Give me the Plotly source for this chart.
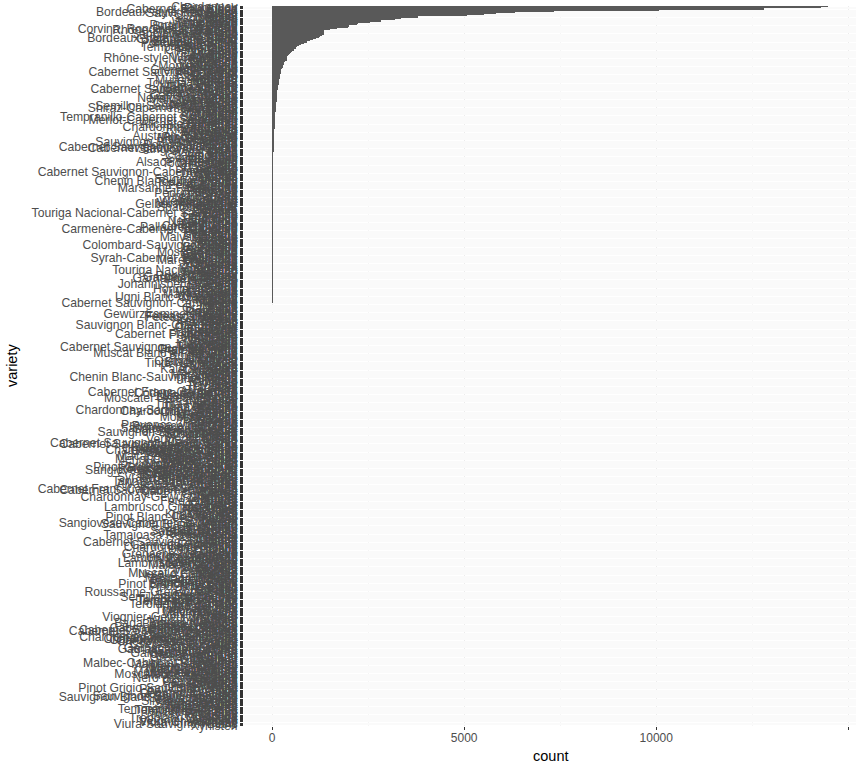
import plotly.graph_objects as go

varieties = [
    # 0-24
    "Chardonnay", "Pinot Noir", "Cabernet Sauvignon", "Red Blend", "Bordeaux-style Red Blend", "Sauvignon Blanc", "Syrah", "Riesling", "Merlot", "Zinfandel",
    "Sangiovese", "Malbec", "Rosé", "White Blend", "Tempranillo", "Nebbiolo", "Portuguese Red", "Sparkling Blend", "Shiraz", "Corvina, Rondinella, Molinara",
    "Rhône-style Red Blend", "Barbera", "Pinot Gris", "Cabernet Franc", "Sangiovese Grosso",
    # 25-49
    "Pinot Grigio", "Viognier", "Bordeaux-style White Blend", "Champagne Blend", "Port", "Grüner Veltliner", "Gewürztraminer", "Portuguese White", "Petite Sirah", "Carmenère",
    "Tempranillo Blend", "Grenache", "Glera", "Chenin Blanc", "Pinot Blanc", "Albariño", "Gamay", "Aglianico", "Moscato", "Sauvignon",
    "Rhône-style White Blend", "Nero d'Avola", "Torrontés", "Sémillon", "Pinotage",
    # 50-74
    "Garnacha", "Verdejo", "Montepulciano", "Mourvèdre", "Vermentino", "Grenache Blanc", "Primitivo", "Cabernet Sauvignon-Merlot", "Petit Verdot", "Tannat",
    "Roussanne", "Dolcetto", "Meritage", "Prosecco", "Müller-Thurgau", "Bonarda", "Garganega", "Touriga Nacional", "Furmint", "Fiano",
    "Tinta de Toro", "Malbec-Merlot", "Cabernet Sauvignon-Syrah", "Syrah-Grenache", "Mencía",
    # 75-99
    "Blaufränkisch", "Zweigelt", "Cabernet Merlot", "Greco", "Falanghina", "Nerello Mascalese", "Malvasia Bianca", "Carignane", "Verdicchio", "Cabernet Blend",
    "Muscat", "Negroamaro", "Semillon-Sauvignon Blanc", "Pinot Bianco", "Shiraz-Cabernet Sauvignon", "Vernaccia", "Friulano", "Monastrell", "Moscatel", "Lagrein",
    "Teroldego", "Cinsault", "Tempranillo-Cabernet Sauvignon", "Sagrantino", "Merlot-Cabernet Sauvignon",
    # 100-145
    "Kerner", "Auxerrois", "Carignan", "Alicante Bouschet", "Cannonau", "Chardonnay-Viognier", "Tinto Fino", "Ribolla Gialla", "Xinomavro", "Assyrtiko",
    "Agiorgitiko", "Sylvaner", "Arneis", "Austrian Red Blend", "Pinot Meunier", "Muscat Canelli", "Trebbiano", "Moschofilero", "Lemberger", "Sauvignon Blanc-Semillon",
    "Rosato", "Portuguese Rosé", "Valdiguié", "Cabernet Sauvignon-Sangiovese", "Cabernet Sauvignon-Shiraz", "Sangiovese-Syrah", "Norton", "Vidal Blanc", "Baga", "Arinto",
    "Chambourcin", "Aragonês", "Grillo", "Seyval Blanc", "Rkatsiteli", "Pecorino", "Alsace white blend", "Tocai Friulano", "Trincadeira", "Vidal",
    "Insolia", "Catarratto", "Frappato", "Godello", "Plavac Mali", "Cabernet Sauvignon-Cabernet Franc",
    # 146-149
    "Dornfelder", "Cortese", "Picpoul", "Saperavi",
    # 150-153
    "Melon", "Sauvignon Gris", "Vranec", "Chenin Blanc-Chardonnay",
    # 154-157
    "Touriga Franca", "Castelão", "Fernão Pires", "Loureiro",
    # 158-162
    "Alvarinho", "Marsanne-Roussanne", "Avesso", "Antão Vaz", "Palomino",
    # 163-167
    "Pedro Ximénez", "Sherry", "Tinta Cão", "Tinta Barroca", "Jaen",
    # 168-172
    "Alfrocheiro", "St. Laurent", "Welschriesling", "Neuburger", "Muskat Ottonel",
    # 173-178
    "Gelber Muskateller", "Traminer", "Scheurebe", "Spätburgunder", "Silvaner", "Schiava",
    # 179-184
    "Refosco", "Croatina", "Touriga Nacional-Cabernet Sauvignon", "Freisa", "Grignolino", "Ruché",
    # 185-191
    "Timorasso", "Erbaluce", "Favorita", "Nero di Troia", "Uva di Troia", "Gaglioppo", "Piedirosso",
    # 192-198
    "Coda di Volpe", "Pallagrello Bianco", "Ciliegiolo", "Carmenère-Cabernet Sauvignon", "Canaiolo", "Grechetto", "Passerina",
    # 199-207
    "Lacrima", "Albana", "Pignoletto", "Malvasia Nera", "Vitovska", "Pigato", "Nuragus", "Monica", "Carignano",
    # 208-221
    "Bovale", "Colombard-Sauvignon Blanc", "Torbato", "Grecanico", "Zibibbo", "Perricone", "Carricante", "Moscato Giallo", "Brachetto", "Cesanese",
    "Vignoles", "Traminette", "Syrah-Cabernet Sauvignon", "Baco Noir",
    # 222-237
    "Maréchal Foch", "Frontenac", "Marquette", "Catawba", "Concord", "Niagara", "Cayuga", "Chardonel", "Muscadine", "Touriga Nacional Blend",
    "Charbono", "Mission", "Trousseau", "Symphony", "Ruby Cabernet", "Garnacha Blanca",
    # 238-249
    "Garnacha Tintorera", "Prieto Picudo", "Bobal", "Graciano", "Mazuelo", "Johannisberg Riesling", "Xarel-lo", "Macabeo", "Viura", "Parellada",
    "Hondarrabi Zuri", "Treixadura",
    # 250-260
    "Roditis", "Malagousia", "Mavrodaphne", "Athiri", "Savatiano", "Ugni Blanc-Colombard", "Mandilaria", "Kotsifali", "Liatiko", "Vidiano",
    "Cabernet Sauvignon-Carmenère",
    # 261-275
    "Robola", "Limnio", "Pošip", "Graševina", "Teran", "Babić", "Tamjanika", "Prokupac", "Mtsvane", "Gewürztraminer-Riesling",
    "Feteasca Neagra", "Feteasca Regala", "Mavrud", "Melnik", "Kadarka",
    # 276-289
    "Kékfrankos", "Hárslevelü", "Tokaji", "Sauvignon Blanc-Chardonnay", "Juhfark", "Olaszrizling", "Portugieser", "Elbling", "Trollinger", "Rieslaner",
    "Chasselas", "Cabernet Franc-Merlot", "Petite Arvine", "Cornalin",
    # 290-304
    "Mondeuse", "Jacquère", "Altesse", "Savagnin", "Poulsard", "Aligoté", "Muscadelle", "Colombard", "Ugni Blanc", "Cabernet Sauvignon-Tempranillo",
    "Gros Manseng", "Petit Manseng", "Négrette", "Fer Servadou", "Muscat Blanc à Petit Grain",
    # 305-321
    "Clairette", "Bourboulenc", "Counoise", "Rolle", "Tibouren", "Nielluccio", "Orange Muscat", "Black Muscat", "Tinta Negra Mole", "Malvasia",
    "Zelen", "Rebula", "Žilavka", "Kalecik Karasi", "Öküzgözü", "Boğazkere", "Narince",
    # 322-336
    "Emir", "Maratheftiko", "Mavro", "Chenin Blanc-Sauvignon Blanc", "Rufete", "Tinta Miúda", "Rabigato", "Viosinho", "Gouveio", "Síria",
    "Bical", "Terrantez", "Vinhão", "Azal", "Trajadura",
    # 337-351
    "Alvarelhão", "Cabernet Franc-Carmenère", "Códega do Larinho", "Espadeiro", "Malvasia Fina", "Moscatel Roxo", "Moscatel Galego Branco", "Sercial", "Bual", "Malmsey",
    "Souzão", "Tinta Amarela", "Tinta Francisca", "Verdelho", "Tinta Madeira",
    # 352-382
    "Aleatico", "Bellone", "Chardonnay-Sauvignon Blanc", "Chardonnay-Semillon", "Chiavennasca", "Enantio", "Franconia", "Marzemino", "Moscato Rosa", "Moscadello",
    "Nascetta", "Nosiola", "Pelaverga", "Picolit", "Pignolo", "Provence white blend", "Provence red blend", "Rossese", "Sangiovese Cabernet", "Sauvignon Musqué",
    "Sauvignonasse", "Sauvignon Blanc-Viognier", "Schioppettino", "Susumaniello", "Tintore", "Verduzzo", "Vespolina", "Vermentino Nero", "Nasco", "Girò",
    "Casavecchia",
    # 383-417
    "Cabernet Sauvignon-Merlot-Shiraz", "Cabernet Sauvignon-Petit Verdot", "Cabernet-Syrah", "Carignan-Grenache", "Carmenère-Syrah", "Chardonnay-Albariño", "Chardonnay-Pinot Blanc", "Grenache-Carignan", "Grenache-Shiraz", "Grenache-Syrah",
    "Grenache Gris", "Macabeo-Chardonnay", "Malbec-Syrah", "Malbec-Tannat", "Merlot-Cabernet Franc", "Merlot-Malbec", "Merlot-Syrah", "Merlot-Tannat", "Monastrell-Syrah", "Mourvèdre-Syrah",
    "Petite Sirah-Zinfandel", "Pinot Gris-Gewürztraminer", "Roussanne-Viognier", "Roussanne-Marsanne", "Sangiovese-Cabernet Franc", "Shiraz-Grenache", "Shiraz-Viognier", "Shiraz-Tempranillo", "Syrah-Mourvèdre", "Syrah-Petite Sirah",
    "Syrah-Cabernet Franc", "Syrah-Tempranillo", "Syrah-Viognier", "Tannat-Cabernet Franc", "Tannat-Merlot",
    # 418-468
    "Airén", "Alvarinho-Chardonnay", "Argaman", "Babeasca Neagra", "Blatina", "Cabernet Franc-Cabernet Sauvignon", "Cabernet Sauvignon-Petite Sirah", "Cabernet Moravia", "Chelois", "Cercial",
    "Completer", "Courbu", "Chardonnay-Gewürztraminer", "Diamond", "Dimyat", "Duras", "Fetească Albă", "Gamaret", "Garanoir", "Heida",
    "Huxelrebe", "Lambrusco Grasparossa", "Irsai Oliver", "Jampal", "Karasakiz", "Kéknyelű", "Kisi", "Királyleányka", "La Crescent", "Léon Millot",
    "Pinot Blanc-Chardonnay", "Marawi", "Mauzac", "Misket", "Ortega", "Sangiovese-Cabernet Sauvignon", "Sauvignon Blanc-Verdejo", "Prunelard", "Räuschling", "Roussette",
    "Rubin", "Syrah-Carignan", "Sárgamuskotály", "Scuppernong", "Smederevka", "St. Vincent", "Tamaioasa Romaneasca", "Zierfandler", "Trepat", "Tsolikouri",
    "Vilana",
    # 469-538
    "Alicante", "Cabernet Sauvignon-Malbec", "Caprettone", "Cariñena-Garnacha", "Centesiminio", "Chardonnay-Riesling", "Dafni", "Debit", "Doña Blanca", "Durello",
    "Forcallà", "Grenache-Mourvèdre", "Groppello", "Incrocio Manzoni", "Kinali Yapincak", "Lambrusco Salamino", "Lambrusco", "Listán Negro", "Loin de l'Oeil", "Lambrusco di Sorbara",
    "Madeira Blend", "Malbec-Bonarda", "Malvar", "Malvazija", "Mantonico", "Merseguera", "Morava", "Moristel", "Muscat d'Alexandrie", "Nerello Cappuccio",
    "Nocera", "Obeidi", "Muscat Hamburg", "Pallagrello Nero", "Petit Courbu", "Picapoll", "Piquepoul Blanc", "Pinot Auxerrois", "Pinot Blanc-Pinot Noir", "Pinot Noir-Syrah",
    "Prié Blanc", "Raboso", "Ramisco", "Rivaner", "Romorantin", "Roussanne-Grenache Blanc", "Sacy", "Sauvignon Vert", "Sciaccerellu", "Semillon-Chardonnay",
    "Shiraz-Malbec", "Sousão", "Tempranillo-Merlot", "Tempranillo-Shiraz", "Terret Blanc", "Teroldego Rotaliano", "Tinta del Toro", "Tinto del Pais", "Tocai Rosso", "Torontel",
    "Trousseau Gris", "Monemvasia", "Mavrotragano", "Uvalino", "Valvin Muscat", "Verdeca", "Vidadillo", "Viognier-Gewürztraminer", "Vital", "Weissburgunder",
    # 539-631
    "Abouriou", "Aidani", "Baga-Touriga Nacional", "Barbera-Nebbiolo", "Biancu Gentile", "Bombino Bianco", "Cabernet Franc-Malbec", "Cabernet Pfeffer", "Cabernet Sauvignon-Barbera", "Cabernet Sauvignon-Grenache",
    "Cabernet-Shiraz", "Carcajolu", "Carnelian", "Cesanese d'Affile", "Chardonnay Weissburgunder", "Chardonnay-Pinot Gris", "Chardonnay-Pinot Grigio", "Chardonnay-Sauvignon", "Chenin Blanc-Viognier", "Coda di Pecora",
    "Cserszegi Fűszeres", "Durif", "Forastera", "Gamay Noir", "Garnacha-Monastrell", "Garnacha-Tempranillo", "Garnacha Tinta", "Garnacha-Syrah", "Garnacha-Cariñena", "Gelber Traminer",
    "Gragnano", "Grauburgunder", "Grenache Blend", "Grolleau", "Gros Plant", "Jacquez", "Kallmet", "Malbec-Cabernet Sauvignon", "Malbec-Petit Verdot", "Mansois",
    "Merlot-Argaman", "Merlot-Cabernet", "Merlot-Grenache", "Merlot-Shiraz", "Molinara", "Mondeuse Blanche", "Moscatel Graúdo", "Moscatel de Alejandría", "Moscato Bianco", "Muscadel",
    "Nero d'Avola-Syrah", "Nielluciu", "Ondenc", "Orangetraube", "Pansa Blanca", "Parraleta", "Pedernã", "Petit Meslier", "Petite Verdot", "Pinot Grigio-Sauvignon Blanc",
    "Pinot-Chardonnay", "Plyto", "Premsal", "Prugnolo Gentile", "Rosenmuskateller", "Roscetto", "Sauvignon Blanc-Assyrtiko", "Sauvignon Blanc-Sauvignon Gris", "Schwartzriesling", "Sideritis",
    "Silvaner-Traminer", "Sgaveta", "Souvignier Gris", "Syrah-Bonarda", "Syrah-Malbec", "Syrah-Merlot", "Tannat-Syrah", "Tempranillo-Garnacha", "Tempranillo-Tannat", "Terrantez do Pico",
    "Thrapsathiri", "Tinta Fina", "Tokay Pinot Gris", "Tokay", "Touriga", "Trebbiano Spoletino", "Uva Rara", "Verdosilla", "Viognier-Valdiguié", "Viura-Chardonnay",
    "Vranac", "Viura-Sauvignon Blanc", "Xynisteri",
]

counts = [
    # 0-24
    14482, 14291, 12800, 10062, 7347, 6320, 5825, 5524, 5070, 3799,
    3345, 3208, 2831, 2824, 2556, 2241, 2216, 2004, 1970, 1682,
    1505, 1365, 1365, 1363, 1346,
    # 25-49
    1300, 1260, 1230, 1140, 1070, 1000, 920, 830, 745, 690,
    660, 630, 615, 560, 530, 500, 470, 445, 420, 400,
    390, 385, 380, 345, 315,
    # 50-74
    305, 298, 292, 275, 258, 245, 238, 230, 226, 220,
    212, 205, 202, 200, 192, 185, 178, 174, 168, 163,
    158, 153, 149, 145, 140,
    # 75-99
    137, 135, 133, 131, 129, 126, 124, 122, 118, 115,
    112, 109, 106, 103, 100, 96, 93, 90, 87, 84,
    82, 80, 78, 76, 74,
    # 100-145
    73, 72, 71, 70, 69, 68, 66, 64, 63, 62,
    60, 59, 57, 56, 55, 54, 53, 52, 51, 50,
    48, 47, 45, 44, 42, 41, 39, 38, 36, 35,
    34, 33, 32, 31, 31, 30, 30, 29, 29, 28,
    28, 28, 27, 27, 27, 26,
    # 146-149
    26, 26, 26, 26,
    # 150-153
    25, 25, 25, 25,
    # 154-157
    24, 24, 24, 24,
    # 158-162
    23, 23, 23, 23, 23,
    # 163-167
    22, 22, 22, 22, 22,
    # 168-172
    21, 21, 21, 21, 21,
    # 173-178
    20, 20, 20, 20, 20, 20,
    # 179-184
    19, 19, 19, 19, 19, 19,
    # 185-191
    18, 18, 18, 18, 18, 18, 18,
    # 192-198
    17, 17, 17, 17, 17, 17, 17,
    # 199-207
    16, 16, 16, 16, 16, 16, 16, 16, 16,
    # 208-221
    15, 15, 15, 15, 15, 15, 15, 15, 15, 15,
    15, 15, 15, 15,
    # 222-237
    14, 14, 14, 14, 14, 14, 14, 14, 14, 14,
    14, 14, 14, 14, 14, 14,
    # 238-249
    13, 13, 13, 13, 13, 13, 13, 13, 13, 13,
    13, 13,
    # 250-260
    12, 12, 12, 12, 12, 12, 12, 12, 12, 12,
    12,
    # 261-275
    11, 11, 11, 11, 11, 11, 11, 11, 11, 11,
    11, 11, 11, 11, 11,
    # 276-289
    10, 10, 10, 10, 10, 10, 10, 10, 10, 10,
    10, 10, 10, 10,
    # 290-304
    9, 9, 9, 9, 9, 9, 9, 9, 9, 9,
    9, 9, 9, 9, 9,
    # 305-321
    8, 8, 8, 8, 8, 8, 8, 8, 8, 8,
    8, 8, 8, 8, 8, 8, 8,
    # 322-336
    7, 7, 7, 7, 7, 7, 7, 7, 7, 7,
    7, 7, 7, 7, 7,
    # 337-351
    6, 6, 6, 6, 6, 6, 6, 6, 6, 6,
    6, 6, 6, 6, 6,
    # 352-382
    5, 5, 5, 5, 5, 5, 5, 5, 5, 5,
    5, 5, 5, 5, 5, 5, 5, 5, 5, 5,
    5, 5, 5, 5, 5, 5, 5, 5, 5, 5,
    5,
    # 383-417
    4, 4, 4, 4, 4, 4, 4, 4, 4, 4,
    4, 4, 4, 4, 4, 4, 4, 4, 4, 4,
    4, 4, 4, 4, 4, 4, 4, 4, 4, 4,
    4, 4, 4, 4, 4,
    # 418-468
    3, 3, 3, 3, 3, 3, 3, 3, 3, 3,
    3, 3, 3, 3, 3, 3, 3, 3, 3, 3,
    3, 3, 3, 3, 3, 3, 3, 3, 3, 3,
    3, 3, 3, 3, 3, 3, 3, 3, 3, 3,
    3, 3, 3, 3, 3, 3, 3, 3, 3, 3,
    3,
    # 469-538
    2, 2, 2, 2, 2, 2, 2, 2, 2, 2,
    2, 2, 2, 2, 2, 2, 2, 2, 2, 2,
    2, 2, 2, 2, 2, 2, 2, 2, 2, 2,
    2, 2, 2, 2, 2, 2, 2, 2, 2, 2,
    2, 2, 2, 2, 2, 2, 2, 2, 2, 2,
    2, 2, 2, 2, 2, 2, 2, 2, 2, 2,
    2, 2, 2, 2, 2, 2, 2, 2, 2, 2,
    # 539-631
    1, 1, 1, 1, 1, 1, 1, 1, 1, 1,
    1, 1, 1, 1, 1, 1, 1, 1, 1, 1,
    1, 1, 1, 1, 1, 1, 1, 1, 1, 1,
    1, 1, 1, 1, 1, 1, 1, 1, 1, 1,
    1, 1, 1, 1, 1, 1, 1, 1, 1, 1,
    1, 1, 1, 1, 1, 1, 1, 1, 1, 1,
    1, 1, 1, 1, 1, 1, 1, 1, 1, 1,
    1, 1, 1, 1, 1, 1, 1, 1, 1, 1,
    1, 1, 1, 1, 1, 1, 1, 1, 1, 1,
    1, 1, 1,
]

x_tick_values = [0, 5000, 10000, 15000]
x_tick_labels = ["0", "5000", "10000", "15000"]
x_minor_values = [2500, 7500, 12500]

dups = sorted({v for v in varieties if varieties.count(v) > 1})
if dups or len(varieties) != len(counts):
    raise SystemExit(f"len varieties={len(varieties)} counts={len(counts)} dups={dups}")

n = len(varieties)
order_bottom_up = varieties[::-1]

fig = go.Figure(
    go.Bar(
        x=counts,
        y=varieties,
        orientation="h",
        marker=dict(color="rgba(89,89,89,0.999)", line=dict(width=0)),
        hoverinfo="x+y",
    )
)

fig.update_layout(
    template="none",
    width=864,
    height=768,
    margin=dict(l=244, r=8, t=6, b=42, autoexpand=False),
    paper_bgcolor="white",
    plot_bgcolor="white",
    bargap=0,
    showlegend=False,
    font=dict(family="Liberation Sans, Arial, sans-serif", color="#4d4d4d"),
    annotations=[
        dict(text="count", xref="paper", yref="paper", x=0.5, y=-30 / 720,
             xanchor="center", yanchor="middle", showarrow=False,
             font=dict(size=14.5, color="black")),
        dict(text="variety", xref="paper", yref="paper", x=-232 / 612, y=0.5,
             xanchor="center", yanchor="middle", textangle=-90, showarrow=False,
             font=dict(size=14.5, color="black")),
    ],
)

fig.update_xaxes(
    automargin=False,
    range=[-730.1, 15200.1],
    tickmode="array",
    tickvals=x_tick_values,
    ticktext=x_tick_labels,
    ticks="outside",
    ticklen=3,
    tickwidth=1,
    tickcolor="#333333",
    ticklabelstandoff=-2,
    tickfont=dict(size=12, color="#4d4d4d"),
    showgrid=True,
    gridcolor="#ececec",
    gridwidth=1,
    minor=dict(tickvals=x_minor_values, showgrid=True, gridcolor="#f5f5f5", gridwidth=1, ticks=""),
    zeroline=False,
    showline=False,
)

fig.update_yaxes(
    automargin=False,
    type="category",
    categoryorder="array",
    categoryarray=order_bottom_up,
    range=[-0.6, n - 1 + 0.6],
    tickmode="array",
    tickvals=order_bottom_up,
    ticktext=order_bottom_up,
    ticks="outside",
    ticklen=3,
    tickwidth=1,
    tickcolor="#333333",
    tickfont=dict(size=12.2, color="#4d4d4d"),
    showgrid=True,
    gridcolor="#fafafa",
    gridwidth=1,
    zeroline=False,
    showline=False,
)

fig.write_html(
    "out.html",
    post_script="var d=document.getElementById('{plot_id}'); if(d){d.style.opacity='0.999';}",
)
